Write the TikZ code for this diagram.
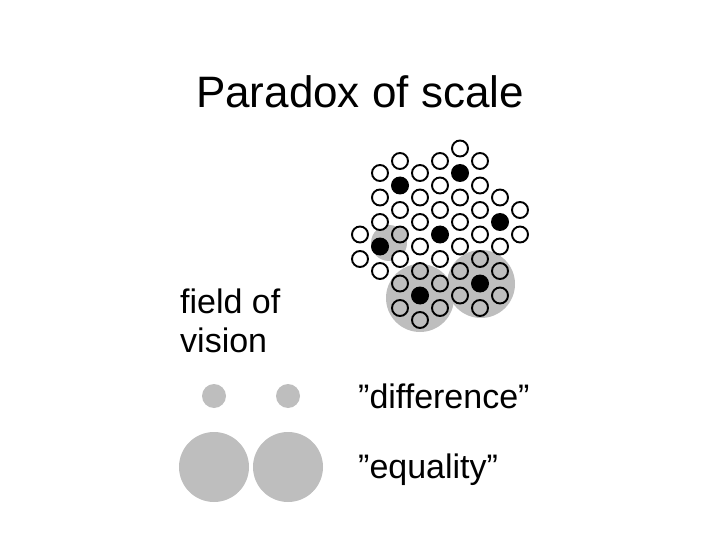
\documentclass[tikz,border=0pt]{standalone}
\usepackage{fontspec}
\setmainfont{Liberation Sans}
\begin{document}
\begin{tikzpicture}[x=1pt,y=-1pt,
  ring/.style={draw=black,line width=1.9pt,fill=white},
  gring/.style={draw=black,line width=1.9pt,fill=fieldgray},
  dot/.style={fill=black},
  field/.style={fill=fieldgray},
  lab/.style={anchor=base west,inner sep=0pt,font=\fontsize{34}{40}\selectfont}]
\definecolor{fieldgray}{RGB}{190,190,190}
\useasboundingbox (0,0) rectangle (720,540);
\node[anchor=base,inner sep=0pt,font=\fontsize{44}{50}\selectfont] (title) at (360,108) {Paradox of scale};
% fields
\fill[field] (420,298) circle (34);
\fill[field] (481,284) circle (34);
\fill[field] (389,243) circle (18);
% lattice
\foreach \c/\ks in {0/{3,4},2/{0,2,4},4/{0,1,2,4},6/{0,1,2,3},8/{2,3}}{
  \foreach \k in \ks { \draw[ring] (360+20*\c,161+24.5*\k) circle (8); } }
\foreach \c/\ks in {1/{1,2,3,5},3/{1,2,3,4},5/{0,2,3,4},7/{2,4}}{
  \foreach \k in \ks { \draw[ring] (360+20*\c,148.5+24.5*\k) circle (8); } }
% gray rings
\foreach \c/\k in {2/3,2/5,2/6,4/5,4/6,6/4,6/6}{ \draw[gring] (360+20*\c,161+24.5*\k) circle (8); }
\foreach \c/\k in {3/5,3/7,5/5,5/6,7/5,7/6}{ \draw[gring] (360+20*\c,148.5+24.5*\k) circle (8); }
% black dots
\foreach \c/\k in {2/1,4/3,6/5}{ \fill[dot] (360+20*\c,161+24.5*\k) circle (9); }
\foreach \c/\k in {1/4,3/6,5/1,7/3}{ \fill[dot] (360+20*\c,148.5+24.5*\k) circle (9); }
% legend
\node[lab] (fov1) at (180,313) {field of};
\node[lab] (fov2) at (180,352) {vision};
\fill[field] (214,396) circle (12);
\fill[field] (288,396) circle (12);
\fill[field] (214,467) circle (35);
\fill[field] (288,467) circle (35);
\node[lab] (diff) at (358,408) {\symbol{34}difference\symbol{34}};
\node[lab] (eq) at (358,478) {\symbol{34}equality\symbol{34}};
\end{tikzpicture}
\end{document}
